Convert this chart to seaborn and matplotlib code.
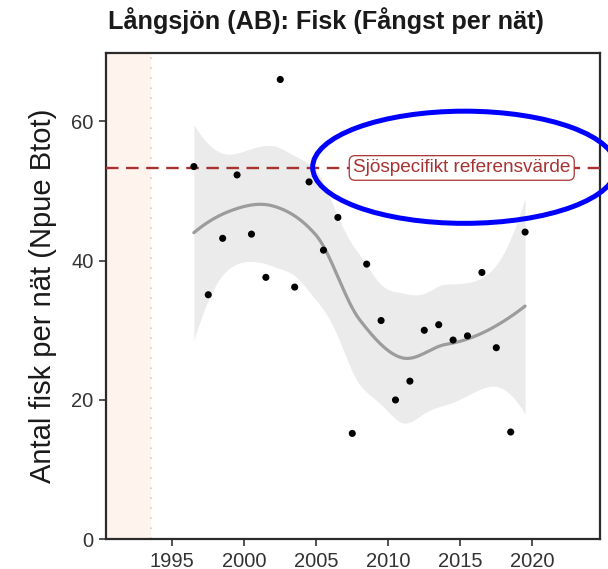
import numpy as np
import pandas as pd
import matplotlib
matplotlib.use("Agg")
import matplotlib.pyplot as plt
import seaborn as sns
from matplotlib.patches import Ellipse

# ---- data ----
years = list(range(1996, 2020))
npue = [53.5, 35.1, 43.2, 52.3, 43.8, 37.6, 66.0, 36.2, 51.3, 41.5, 46.2, 15.2,
        39.5, 31.4, 20.0, 22.7, 30.0, 30.8, 28.6, 29.2, 38.3, 27.5, 15.4, 44.1]
ref_value = 53.3
ref_label = "Sjöspecifikt referensvärde"
title = "Långsjön (AB): Fisk (Fångst per nät)"
ylabel = "Antal fisk per nät (Npue Btot)"
xticks = [1995, 2000, 2005, 2010, 2015, 2020]
yticks = [0, 20, 40, 60]
ref_period_end = 1993.5

sns.set_theme(style="white")
plt.rcParams["font.family"] = ["Liberation Sans", "DejaVu Sans"]

df = pd.DataFrame({"year": years, "npue": npue})
df["x"] = df["year"] + 0.5  # mid-year position


def loess(x, y, xg, span=0.75, cell=0.2):
    """Local quadratic loess with kd-tree vertex + cubic Hermite interpolation
    (like R's default surface='interpolate'), with confidence band."""
    x = np.asarray(x, float)
    y = np.asarray(y, float)
    xm = x.mean()
    x = x - xm
    xg = np.asarray(xg, float) - xm
    n = len(x)
    q = int(np.floor(n * span))

    def rows(v):
        d = np.abs(x - v)
        h = np.sort(d)[q - 1]
        w = np.clip(1 - (d / h) ** 3, 0, None) ** 3
        X = np.column_stack([np.ones(n), x - v, (x - v) ** 2])
        XtW = X.T * w
        B = np.linalg.solve(XtW @ X, XtW)
        return B[0], B[1]

    fc = int(np.floor(n * span * cell))
    xs = np.sort(x)
    margin = 0.005 * (xs[-1] - xs[0])
    verts = [xs[0] - margin, xs[-1] + margin]

    def split(pts):
        if len(pts) <= fc:
            return
        m = (len(pts) + 1) // 2
        verts.append((pts[m - 1] + pts[m]) / 2)
        split(pts[:m])
        split(pts[m:])

    split(xs)
    verts = np.sort(np.array(verts))
    VR = [rows(v) for v in verts]

    def interp_row(t):
        i = int(np.clip(np.searchsorted(verts, t) - 1, 0, len(verts) - 2))
        a, b = verts[i], verts[i + 1]
        hh = b - a
        s = (t - a) / hh
        h00 = 2 * s ** 3 - 3 * s ** 2 + 1
        h10 = s ** 3 - 2 * s ** 2 + s
        h01 = -2 * s ** 3 + 3 * s ** 2
        h11 = s ** 3 - s ** 2
        return (h00 * VR[i][0] + h10 * hh * VR[i][1]
                + h01 * VR[i + 1][0] + h11 * hh * VR[i + 1][1])

    L = np.array([interp_row(v) for v in x])
    Lg = np.array([interp_row(v) for v in xg])
    fit = Lg @ y
    IL = np.eye(n) - L
    R = IL.T @ IL
    d1 = np.trace(R)
    d2 = np.trace(R @ R)
    rss = np.sum((IL @ y) ** 2)
    sigma = np.sqrt(rss / d1)
    se = sigma * np.sqrt(np.sum(Lg ** 2, axis=1))
    dfree = d1 ** 2 / d2
    z = 1.959964
    t = (z + (z ** 3 + z) / (4 * dfree)
         + (5 * z ** 5 + 16 * z ** 3 + 3 * z) / (96 * dfree ** 2))
    return fit, fit - t * se, fit + t * se


xg = np.linspace(df["x"].min(), df["x"].max(), 240)
fit, lo, hi = loess(df["x"], df["npue"], xg, 0.7)
sm = pd.DataFrame({"x": xg, "fit": fit, "lo": lo, "hi": hi})

fig = plt.figure(figsize=(6.08, 5.69), dpi=100)
ax = fig.add_axes([106 / 608, 1 - 539.3 / 569, 494 / 608, (539.3 - 53) / 569])
ax.set_xlim(1990.4, 2024.7)
ax.set_ylim(0, 69.8)

ax.axvspan(1990.4, ref_period_end, color="#fff3ed", lw=0, zorder=0)
ax.axvline(ref_period_end, color="#cfcfcf", ls=(0, (1, 5)), lw=1.2, zorder=1)

ax.fill_between(sm["x"], sm["lo"], sm["hi"], color="#ebebeb", lw=0, zorder=2)
sns.lineplot(data=sm, x="x", y="fit", color="#9c9c9c", lw=2.3, ax=ax, zorder=3)

ax.axhline(ref_value, color="#a83232", ls=(0, (5.3, 3.2)), lw=1.7, zorder=4)
ax.text(2015.1, ref_value, ref_label, ha="center", va="center", fontsize=13.7,
        color="#a83232", zorder=6,
        bbox=dict(boxstyle="round,pad=0.2,rounding_size=0.3", fc="white",
                  ec="#a83232", lw=0.9))

sns.scatterplot(data=df, x="x", y="npue", color="black", s=26, edgecolor="none",
                ax=ax, zorder=5)

ax.add_patch(Ellipse((2015.3, 53.4), 21.1, 16.1, fill=False, ec="#0000ff",
                     lw=3.6, clip_on=False, zorder=10))

ax.set_xticks(xticks)
ax.set_yticks(yticks)
ax.tick_params(axis="both", which="major", length=5, width=1.2, color="#333333",
               labelsize=14.5, labelcolor="#333333", pad=4, bottom=True, left=True)
ax.set_xlabel("")
ax.set_ylabel("")
for s in ax.spines.values():
    s.set_color("#2b2b2b")
    s.set_linewidth(1.6)
    s.set_visible(True)

fig.text(326 / 608, 1 - 21 / 569, title, ha="center", va="center",
         fontsize=18.2, fontweight="bold", color="#1a1a1a")
fig.text(43 / 608, 1 - 296 / 569, ylabel, ha="center", va="center",
         rotation=90, fontsize=21, color="#1a1a1a")

fig.savefig("out.png", dpi=100)
